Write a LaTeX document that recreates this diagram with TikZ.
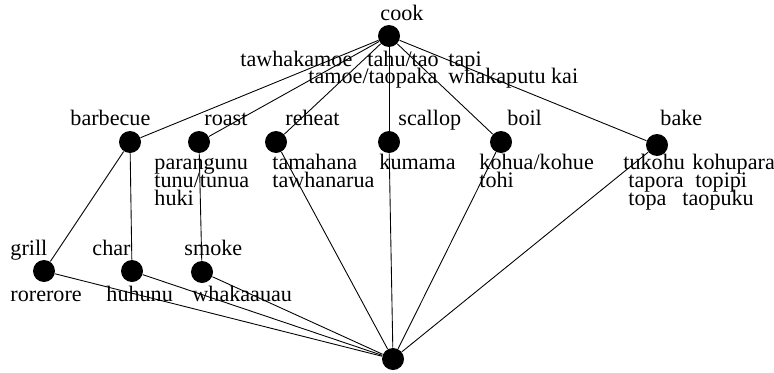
\documentclass[tikz,border=0pt]{standalone}
\usepackage{fontspec}
\setmainfont{Liberation Serif}
\setlength{\lineskiplimit}{-20pt}
\begin{document}
\begin{tikzpicture}[x=1cm,y=1cm,
  concept/.style={circle, fill=black, inner sep=0pt, minimum size=0.44cm},
  lbl/.style={anchor=base west, inner sep=0pt, align=left,
    font=\fontsize{12.6}{10.2}\selectfont},
  line width=0.5pt]
\useasboundingbox (0,0) rectangle (15.48,7.44);
\node[concept] (cook) at (7.78,6.72) {};
\node[concept] (barbecue) at (2.60,4.60) {};
\node[concept] (roast) at (3.98,4.60) {};
\node[concept] (reheat) at (5.52,4.60) {};
\node[concept] (scallop) at (7.78,4.60) {};
\node[concept] (boil) at (10.02,4.60) {};
\node[concept] (bake) at (13.14,4.54) {};
\node[concept] (grill) at (0.88,2.02) {};
\node[concept] (char) at (2.64,2.02) {};
\node[concept] (smoke) at (4.04,2.00) {};
\node[concept] (bottom) at (7.86,0.26) {};
\draw (cook) -- (barbecue);
\draw (cook) -- (roast);
\draw (cook) -- (reheat);
\draw (cook) -- (scallop);
\draw (cook) -- (boil);
\draw (cook) -- (bake);
\draw (barbecue) -- (grill);
\draw (barbecue) -- (char);
\draw (roast) -- (smoke);
\draw (grill) -- (bottom);
\draw (char) -- (bottom);
\draw (smoke) -- (bottom);
\draw (reheat) -- (bottom);
\draw (scallop) -- (bottom);
\draw (boil) -- (bottom);
\draw (bake) -- (bottom);
\node[lbl] (cookname) at (7.60,7.02) {cook};
\node[lbl] (cookw1) at (4.80,6.12) {tawhakamoe};
\node[lbl] (cookw2) at (7.34,6.12) {tahu/tao};
\node[lbl] (cookw3) at (8.96,6.12) {tapi};
\node[lbl] (cookw4) at (6.16,5.78) {tamoe/taopaka};
\node[lbl] (cookw5) at (8.96,5.78) {whakaputu kai};
\node[lbl] (barbecuename) at (1.40,4.94) {barbecue};
\node[lbl] (roastname) at (4.08,4.94) {roast};
\node[lbl] (reheatname) at (5.70,4.94) {reheat};
\node[lbl] (scallopname) at (7.96,4.94) {scallop};
\node[lbl] (boilname) at (10.14,4.94) {boil};
\node[lbl] (bakename) at (13.20,4.94) {bake};
\node[lbl] (roastwords) at (3.08,3.34) {parangunu\\tunu/tunua\\huki};
\node[lbl] (reheatwords) at (5.44,3.70) {tamahana\\tawhanarua};
\node[lbl] (scallopwords) at (7.58,4.06) {kumama};
\node[lbl] (boilwords) at (9.58,3.70) {kohua/kohue\\tohi};
\node[lbl] (bakew1) at (12.46,4.06) {tukohu};
\node[lbl] (bakew2) at (13.84,4.06) {kohupara};
\node[lbl] (bakew3) at (12.56,3.70) {tapora};
\node[lbl] (bakew4) at (13.90,3.70) {topipi};
\node[lbl] (bakew5) at (12.56,3.34) {topa};
\node[lbl] (bakew6) at (13.64,3.34) {taopuku};
\node[lbl] (grillname) at (0.20,2.34) {grill};
\node[lbl] (charname) at (1.84,2.34) {char};
\node[lbl] (smokename) at (3.68,2.34) {smoke};
\node[lbl] (grillwords) at (0.20,1.42) {rorerore};
\node[lbl] (charwords) at (2.12,1.42) {huhunu};
\node[lbl] (smokewords) at (3.84,1.42) {whakaauau};
\end{tikzpicture}
\end{document}
